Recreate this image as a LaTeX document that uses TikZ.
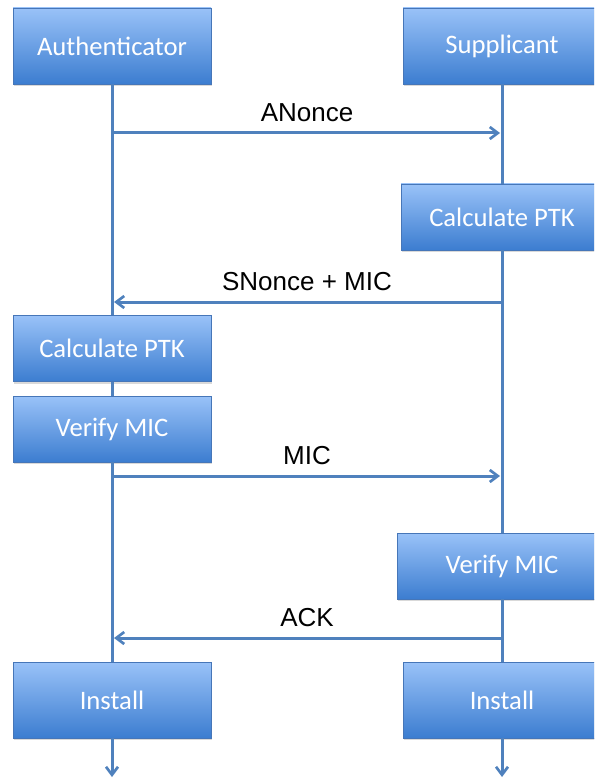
\documentclass[tikz,border=0pt]{standalone}
\usepackage{fontspec}
\setmainfont{Carlito}
\newfontfamily\lblfont{Liberation Sans}
\usetikzlibrary{arrows.meta,shadows}

\tikzset{every picture/.style={line width=0.75pt}}
\tikzset{
  stepbox/.style={draw={rgb, 255:red, 70; green, 118; blue, 184 }, line width=0.5pt,
    top color={rgb, 255:red, 153; green, 194; blue, 248 }, bottom color={rgb, 255:red, 60; green, 125; blue, 208 },
    minimum width=148.5pt, minimum height=49.5pt, inner sep=0pt,
    text=white, font=\fontsize{20}{24}\selectfont,
    drop shadow={shadow xshift=1pt, shadow yshift=-1.5pt, opacity=0.3}},
  life/.style={draw={rgb, 255:red, 79; green, 129; blue, 189 }, line width=2.25pt},
  msg/.style={life, -{Straight Barb[length=6pt,width=9pt,line width=2pt]}, shorten >=1.5pt},
  msglbl/.style={text=black, font=\lblfont\fontsize{19.5}{23}\selectfont, above=4pt}
}

\begin{document}
\begin{tikzpicture}[x=0.75pt,y=0.75pt,yscale=-1,xscale=1]
\clip (0,0) rectangle (594,780);

%Shape: Rectangle [id:auth] 
\node [stepbox, minimum height=57pt] (auth) at (112,46) {Authenticator};
%Shape: Rectangle [id:sup] 
\node [stepbox, minimum height=57pt] (sup) at (502,46) {Supplicant};
%Shape: Rectangle [id:calcS] 
\node [stepbox, minimum width=151.5pt] (calcS) at (502,217) {Calculate PTK};
%Shape: Rectangle [id:calcA] 
\node [stepbox] (calcA) at (112,348.5) {Calculate PTK};
%Shape: Rectangle [id:verA] 
\node [stepbox] (verA) at (112,429) {Verify MIC};
%Shape: Rectangle [id:verS] 
\node [stepbox, minimum width=157.5pt] (verS) at (502,566) {Verify MIC};
%Shape: Rectangle [id:instA] 
\node [stepbox, minimum height=57pt] (instA) at (112,700) {Install};
%Shape: Rectangle [id:instS] 
\node [stepbox, minimum height=57pt] (instS) at (502,700) {Install};

%Lifeline ends
\coordinate (endA) at (112,777);
\coordinate (endS) at (502,777);
%Message points
\coordinate (a1) at (112,133);
\coordinate (s1) at (502,133);
\coordinate (a2) at (112,302);
\coordinate (s2) at (502,302);
\coordinate (a3) at (112,476);
\coordinate (s3) at (502,476);
\coordinate (a4) at (112,638);
\coordinate (s4) at (502,638);

%Straight Lines [id:lifeA] 
\draw [life] (auth) -- (calcA) ;
\draw [life] (calcA) -- (verA) ;
\draw [life] (verA) -- (instA) ;
\draw [life, -{Straight Barb[length=6pt,width=9pt,line width=2pt]}] (instA) -- (endA) ;
%Straight Lines [id:lifeS] 
\draw [life] (sup) -- (calcS) ;
\draw [life] (calcS) -- (verS) ;
\draw [life] (verS) -- (instS) ;
\draw [life, -{Straight Barb[length=6pt,width=9pt,line width=2pt]}] (instS) -- (endS) ;

%Straight Lines [id:msg1] 
\draw [msg] (a1) -- (s1) node [msglbl, midway] (lbl1) {ANonce} ;
%Straight Lines [id:msg2] 
\draw [msg] (s2) -- (a2) node [msglbl, midway] (lbl2) {SNonce + MIC} ;
%Straight Lines [id:msg3] 
\draw [msg] (a3) -- (s3) node [msglbl, midway] (lbl3) {MIC} ;
%Straight Lines [id:msg4] 
\draw [msg] (s4) -- (a4) node [msglbl, midway] (lbl4) {ACK} ;

\end{tikzpicture}
\end{document}
